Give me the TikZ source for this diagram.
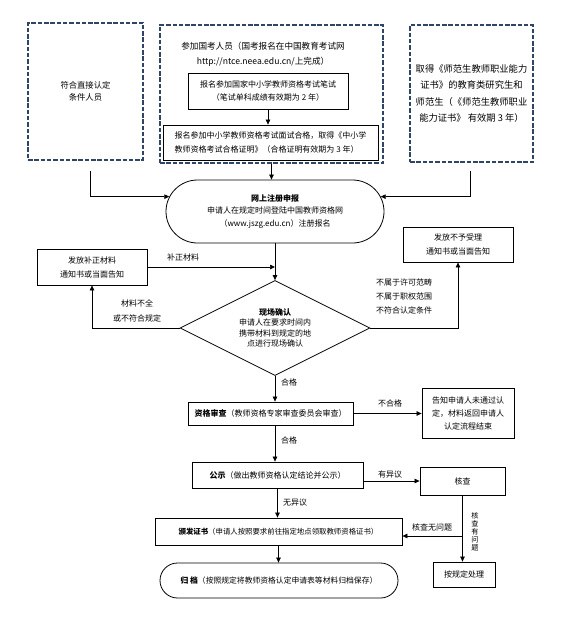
\documentclass[tikz,border=0pt]{standalone}
\usepackage{fontspec}
\setmainfont{Noto Sans CJK SC}
\usetikzlibrary{arrows.meta, positioning, shapes.geometric, shapes.misc, calc}
\definecolor{dashnavy}{HTML}{2E4566}
\tikzset{
  every node/.style={font=\fontsize{8}{12}\selectfont},
  dashbox/.style={draw=dashnavy, line width=1.6pt, dash pattern=on 4.5pt off 1.8pt, inner sep=0pt, align=center},
  procbox/.style={draw, line width=0.8pt, inner sep=2pt, align=center},
  termbox/.style={draw, line width=0.8pt, rounded rectangle, inner sep=2pt, align=center},
  judgebox/.style={draw, line width=0.8pt, diamond, aspect=2, inner sep=0pt, align=center},
  flow/.style={-{Triangle[length=5pt,width=4.5pt]}, line width=0.7pt},
  lbl/.style={font=\fontsize{8}{14}\selectfont, inner sep=0pt}
}
\begin{document}
\begin{tikzpicture}[x=1pt, y=-1pt]
  \useasboundingbox (0,0) rectangle (575,630);
  \node[dashbox, minimum width=115, minimum height=137, font=\fontsize{8.3}{12.5}\selectfont] (zhijie) at (85.5,91.5) {符合直接认定\\条件人员};
  \node[dashbox, minimum width=223, minimum height=138] (kaoshi) at (271.5,94) {};
  \node[font=\fontsize{8.6}{15}\selectfont, align=center] (canjia) at (263,54.5) {参加国考人员（国考报名在中国教育考试网\\http://ntce.neea.edu.cn/上完成）};
  \node[procbox, minimum width=160, minimum height=36, font=\fontsize{8}{13}\selectfont] (bishi) at (268,91) {报名参加国家中小学教师资格考试笔试\\（笔试单科成绩有效期为 2 年）};
  \node[procbox, minimum width=215, minimum height=35, align=left, font=\fontsize{8}{14}\selectfont] (mianshi) at (270.5,142.5) {报名参加中小学教师资格考试面试合格，取得《中小学\\教师资格考试合格证明》（合格证明有效期为 3 年）};
  \node[dashbox, minimum width=123, minimum height=137, font=\fontsize{9.3}{16.5}\selectfont] (quede) at (471.5,93.5) {取得《师范生教师职业能力\\证书》的教育类研究生和\\师范生（《师范生教师职业\\能力证书》 有效期 3 年）};
  \node[termbox, minimum width=222, minimum height=63, font=\fontsize{8}{12.5}\selectfont] (zhuce) at (275,211.5) {\textbf{网上注册申报}\\申请人在规定时间登陆中国教师资格网\\（www.jszg.edu.cn）注册报名};
  \node[procbox, minimum width=110, minimum height=36, font=\fontsize{8}{14}\selectfont] (buzheng) at (92,267) {发放补正材料\\通知书或当面告知};
  \node[procbox, minimum width=110, minimum height=35, font=\fontsize{8}{14}\selectfont] (buyu) at (458,244.5) {发放不予受理\\通知书或当面告知};
  \node[judgebox, minimum width=190, minimum height=95, font=\fontsize{8}{10.5}\selectfont] (queren) at (275,328) {\textbf{现场确认}\\申请人在要求时间内\\携带材料到规定的地\\点进行现场确认};
  \node[procbox, minimum width=165, minimum height=23] (zige) at (270.5,413.5) {\textbf{资格审查}（教师资格专家审查委员会审查）};
  \node[procbox, minimum width=92, minimum height=50, font=\fontsize{8}{13}\selectfont] (gaozhi) at (468,413) {告知申请人未通过认\\定，材料返回申请人\\认定流程结束};
  \node[procbox, minimum width=171, minimum height=26] (gongshi) at (277.5,475) {\textbf{公示}（做出教师资格认定结论并公示）};
  \node[procbox, minimum width=85, minimum height=28] (hecha) at (462.5,481) {核查};
  \node[procbox, minimum width=247, minimum height=27, font=\fontsize{7.4}{11}\selectfont] (fazheng) at (278.5,531.5) {\textbf{颁发证书}（申请人按照要求前往指定地点领取教师资格证书）};
  \node[procbox, minimum width=62, minimum height=25] (chuli) at (464,574.5) {按规定处理};
  \node[termbox, minimum width=242, minimum height=35, font=\fontsize{7.8}{11}\selectfont] (guidang) at (279,580.5) {\textbf{归\ 档}（按照规定将教师资格认定申请表等材料归档保存）};

  \node[lbl] (bzlbl) at (183,257) {补正材料};
  \node[lbl, align=center, font=\fontsize{8}{15}\selectfont] (bqlbl) at (137,310.5) {材料不全\\或不符合规定};
  \node[lbl, align=left, anchor=west] (bylbl) at (376,296) {不属于许可范畴\\不属于职权范围\\不符合认定条件};
  \node[lbl, anchor=west] (hglbl) at (281,382) {合格};
  \node[lbl] (bhglbl) at (390,403) {不合格};
  \node[lbl, anchor=west] (hgbis) at (281,440) {合格};
  \node[lbl] (yyylbl) at (390,474) {有异议};
  \node[lbl, anchor=west] (wyylbl) at (283,503) {无异议};
  \node[lbl] (whwtlbl) at (432,527.5) {核查无问题};
  \node[lbl, align=center, font=\fontsize{7.2}{8}\selectfont] (ywtlbl) at (475,532) {核\\查\\有\\问\\题};

  \coordinate (zjend) at (90,171);
  \coordinate (qdend) at (470,171);
  \coordinate (bzjoin) at (275,267);
  \coordinate (wwtpt) at (0,536);

  \draw[flow] (zjend) |- (zhuce.172);
  \draw[flow] (qdend) |- (zhuce.8);
  \draw[flow] (kaoshi.south) -- (kaoshi.south |- zhuce.north);
  \draw[flow] (bishi.south) -- (bishi.south |- mianshi.north);
  \draw[flow] (zhuce.south) -- (queren.north);
  \draw[flow] (buzheng.east) -- (bzjoin);
  \draw[flow] (queren.west) -| (buzheng.south);
  \draw[flow] (queren.east) -| (buyu.south);
  \draw[flow] (queren.south) -- (queren.south |- zige.north);
  \draw[flow] (zige.east) -- (zige.east -| gaozhi.west);
  \draw[flow] (queren.south |- zige.south) -- (queren.south |- gongshi.north);
  \draw[flow] (gongshi.east |- hecha.west) -- (hecha.west);
  \draw[flow] (gongshi.south) -- (gongshi.south |- fazheng.north);
  \draw[flow] (hecha.south) -- (hecha.south |- chuli.north);
  \draw[flow] (hecha.south |- wwtpt) -- (fazheng.east |- wwtpt);
  \draw[flow] (fazheng.south) -- (fazheng.south |- guidang.north);
\end{tikzpicture}
\end{document}
